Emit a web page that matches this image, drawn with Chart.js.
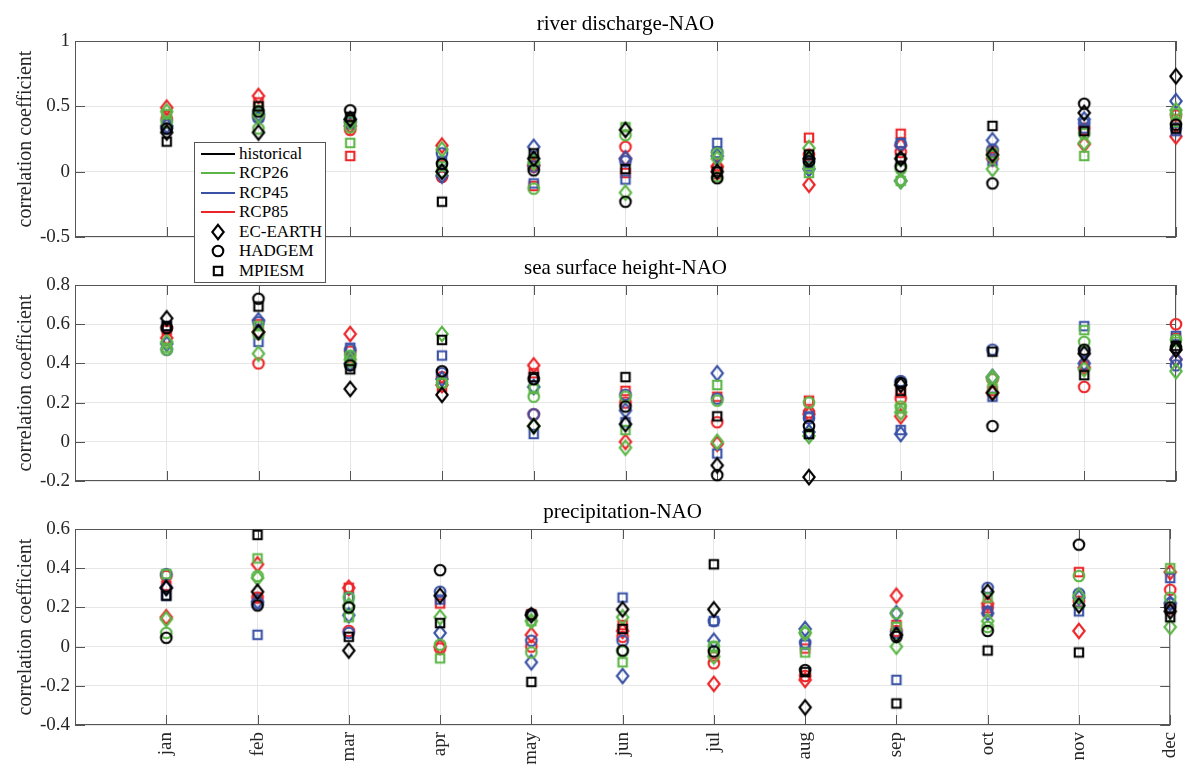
<!DOCTYPE html>
<html>
<head>
<meta charset="utf-8">
<title>NAO correlation</title>
<script src="https://cdn.jsdelivr.net/npm/chart.js@4.4.1/dist/chart.umd.min.js"></script>
<style>
  body { margin: 0; background: #fff; }
  #wrap { position: relative; width: 1200px; height: 780px; overflow: hidden; }
  #wrap canvas { position: absolute; left: 0; }
  #legend {
    position: absolute; left: 194px; top: 142px; width: 130px; height: 139px;
    border: 1px solid #555; background: #fff;
    font-family: "Liberation Serif", serif; font-size: 17px; color: #000;
  }
  #legend .row { position: absolute; left: 0; height: 20px; line-height: 20px; width: 130px; }
  #legend .ln { position: absolute; left: 6px; top: 9px; width: 34px; height: 2px; }
  #legend .mk { position: absolute; left: 13px; top: 0; }
  #legend .tx { position: absolute; left: 44px; top: 0; white-space: nowrap; }
</style>
</head>
<body>
<div id="wrap">
  <canvas id="chart-precip" width="1200" height="280" style="top:500px"></canvas>
  <canvas id="chart-ssh" width="1200" height="250" style="top:250px"></canvas>
  <canvas id="chart-river" width="1200" height="300" style="top:0px"></canvas>
  <div id="legend"></div>
</div>
<script>
// Monthly correlation with NAO: 4 scenarios x 3 models, three variables

const months = ["jan", "feb", "mar", "apr", "may", "jun", "jul", "aug", "sep", "oct", "nov", "dec"];
const scenarios = ["historical", "RCP26", "RCP45", "RCP85"];
const models = ["EC-EARTH", "HADGEM", "MPIESM"];

// river discharge-NAO
const riverHistEc = [0.30, 0.30, 0.40, 0.00, 0.10, 0.32, 0.00, 0.10, 0.10, 0.13, 0.45, 0.73];
const riverHistHad = [0.33, 0.46, 0.47, 0.06, 0.01, -0.23, -0.05, 0.08, 0.04, -0.09, 0.52, 0.36];
const riverHistMpi = [0.23, 0.50, 0.42, -0.23, 0.14, 0.02, 0.00, 0.13, 0.10, 0.35, 0.31, 0.33];
const river26Ec = [0.46, 0.43, 0.38, 0.17, 0.07, -0.16, 0.10, 0.18, -0.07, 0.02, 0.22, 0.47];
const river26Had = [0.38, 0.33, 0.34, 0.00, -0.13, 0.28, 0.14, 0.03, 0.02, 0.12, 0.29, 0.44];
const river26Mpi = [0.44, 0.47, 0.22, 0.04, 0.09, 0.34, -0.04, -0.01, -0.07, 0.14, 0.12, 0.38];
const river45Ec = [0.35, 0.44, 0.40, -0.03, 0.19, 0.10, 0.12, 0.02, -0.07, 0.24, 0.40, 0.54];
const river45Had = [0.33, 0.41, 0.37, 0.14, 0.04, 0.08, 0.15, 0.07, 0.21, 0.17, 0.37, 0.33];
const river45Mpi = [0.37, 0.42, 0.38, 0.08, -0.09, -0.06, 0.22, 0.04, 0.22, 0.08, 0.33, 0.31];
const river85Ec = [0.49, 0.58, 0.35, 0.20, 0.05, 0.10, 0.04, -0.10, 0.20, 0.10, 0.21, 0.27];
const river85Had = [0.40, 0.42, 0.32, -0.04, 0.04, 0.19, 0.03, 0.13, 0.15, 0.155, 0.33, 0.43];
const river85Mpi = [0.43, 0.53, 0.12, 0.05, -0.11, -0.01, -0.02, 0.26, 0.29, 0.12, 0.32, 0.40];

// sea surface height-NAO
const sshHistEc = [0.63, 0.56, 0.27, 0.24, 0.08, 0.09, -0.12, -0.18, 0.29, 0.25, 0.45, 0.47];
const sshHistHad = [0.58, 0.73, 0.39, 0.36, 0.32, 0.18, -0.17, 0.08, 0.30, 0.08, 0.47, 0.48];
const sshHistMpi = [0.59, 0.69, 0.37, 0.52, 0.33, 0.33, 0.13, 0.04, 0.26, 0.46, 0.34, 0.49];
const ssh26Ec = [0.51, 0.45, 0.42, 0.55, 0.08, -0.03, 0.00, 0.03, 0.15, 0.33, 0.37, 0.36];
const ssh26Had = [0.47, 0.55, 0.44, 0.30, 0.23, 0.23, 0.21, 0.20, 0.18, 0.32, 0.51, 0.52];
const ssh26Mpi = [0.48, 0.59, 0.41, 0.30, 0.27, 0.06, 0.29, 0.04, 0.17, 0.27, 0.57, 0.51];
const ssh45Ec = [0.50, 0.62, 0.40, 0.32, 0.28, 0.16, 0.35, 0.05, 0.04, 0.33, 0.40, 0.42];
const ssh45Had = [0.47, 0.61, 0.47, 0.35, 0.14, 0.24, 0.22, 0.12, 0.31, 0.47, 0.46, 0.39];
const ssh45Mpi = [0.59, 0.51, 0.48, 0.44, 0.04, 0.10, -0.06, 0.13, 0.06, 0.23, 0.59, 0.54];
const ssh85Ec = [0.53, 0.56, 0.55, 0.29, 0.39, 0.00, -0.01, 0.14, 0.13, 0.25, 0.38, 0.42];
const ssh85Had = [0.58, 0.40, 0.46, 0.33, 0.14, 0.20, 0.10, 0.15, 0.22, 0.32, 0.28, 0.60];
const ssh85Mpi = [0.57, 0.60, 0.43, 0.28, 0.35, 0.26, 0.23, 0.21, 0.25, 0.26, 0.39, 0.53];

// precipitation-NAO
const precipHistEc = [0.30, 0.28, -0.02, 0.26, 0.16, 0.19, 0.19, -0.31, 0.06, 0.28, 0.21, 0.18];
const precipHistHad = [0.045, 0.21, 0.20, 0.39, 0.165, -0.02, -0.025, -0.12, 0.05, 0.08, 0.52, 0.20];
const precipHistMpi = [0.26, 0.57, 0.05, 0.12, -0.18, 0.09, 0.42, -0.13, -0.29, -0.02, -0.03, 0.15];
const precip26Ec = [0.14, 0.35, 0.21, 0.15, 0.13, 0.15, -0.05, 0.07, 0.00, 0.13, 0.26, 0.10];
const precip26Had = [0.07, 0.36, 0.25, 0.01, -0.03, -0.025, 0.00, 0.07, 0.17, 0.10, 0.36, 0.25];
const precip26Mpi = [0.37, 0.45, 0.15, -0.06, 0.13, -0.08, 0.00, -0.03, 0.10, 0.25, 0.22, 0.40];
const precip45Ec = [0.30, 0.23, 0.16, 0.07, -0.08, -0.15, 0.03, 0.09, 0.17, 0.17, 0.25, 0.22];
const precip45Had = [0.37, 0.22, 0.07, 0.28, 0.03, 0.03, 0.13, 0.02, 0.07, 0.30, 0.27, 0.22];
const precip45Mpi = [0.26, 0.06, 0.25, 0.24, 0.16, 0.25, 0.13, 0.01, -0.17, 0.18, 0.18, 0.35];
const precip85Ec = [0.15, 0.42, 0.30, 0.00, 0.06, 0.08, -0.19, -0.17, 0.26, 0.22, 0.08, 0.38];
const precip85Had = [0.36, 0.25, 0.08, -0.01, 0.00, 0.05, -0.085, -0.15, 0.08, 0.20, 0.23, 0.29];
const precip85Mpi = [0.31, 0.25, 0.30, 0.22, 0.165, 0.11, -0.05, -0.01, 0.11, 0.18, 0.38, 0.19];

const scenarioColors = ["#000000", "#5cb646", "#3a52a6", "#ec2428"];
const modelShapes = ["diamond", "circle", "square"];
const FONT = '"Liberation Serif", serif';

// small canvas used as pointStyle so the markers look like the matlab ones
function markerImage(shape, color) {
  const c = document.createElement("canvas");
  c.width = 20;
  c.height = 20;
  const g = c.getContext("2d");
  g.strokeStyle = color;
  g.lineWidth = 2.1;
  g.beginPath();
  if (shape === "diamond") {
    g.moveTo(10, 2.8);
    g.lineTo(15.7, 10);
    g.lineTo(10, 17.2);
    g.lineTo(4.3, 10);
    g.closePath();
  } else if (shape === "circle") {
    g.arc(10, 10, 5.3, 0, Math.PI * 2);
  } else {
    g.rect(5.8, 5.8, 8.4, 8.4);
  }
  g.stroke();
  return c;
}

function buildDatasets(series) {
  const datasets = [];
  series.forEach((byModel, s) => {
    byModel.forEach((values, m) => {
      datasets.push({
        label: scenarios[s] + " " + models[m],
        data: values.map((v, i) => ({ x: i + 1, y: v })),
        pointStyle: markerImage(modelShapes[m], scenarioColors[s]),
        pointRadius: 6,
        showLine: false,
        clip: false,
      });
    });
  });
  return datasets;
}

// box, inward ticks and panel title
const framePlugin = {
  id: "frame",
  beforeDatasetsDraw(chart, args, opts) {
    const { ctx, chartArea: a, scales } = chart;
    ctx.save();
    ctx.strokeStyle = "#555";
    ctx.lineWidth = 1;
    ctx.strokeRect(a.left + 0.5, a.top + 0.5, a.width - 1, a.height - 1);
    ctx.beginPath();
    scales.x.ticks.forEach((t) => {
      const px = Math.round(scales.x.getPixelForValue(t.value)) + 0.5;
      ctx.moveTo(px, a.bottom);
      ctx.lineTo(px, a.bottom - 10);
      ctx.moveTo(px, a.top);
      ctx.lineTo(px, a.top + 10);
    });
    scales.y.ticks.forEach((t) => {
      const py = Math.round(scales.y.getPixelForValue(t.value)) + 0.5;
      ctx.moveTo(a.left, py);
      ctx.lineTo(a.left + 10, py);
      ctx.moveTo(a.right, py);
      ctx.lineTo(a.right - 10, py);
    });
    ctx.stroke();
    ctx.fillStyle = "#000";
    ctx.font = "21px " + FONT;
    ctx.textAlign = "center";
    ctx.textBaseline = "alphabetic";
    ctx.fillText(opts.title, (a.left + a.right) / 2, a.top - 11);
    ctx.restore();
  },
};

function makePanel(id, title, series, yMin, yMax, yStep, topPad, xHeight, showMonths) {
  const ctx = document.getElementById(id).getContext("2d");
  return new Chart(ctx, {
    type: "scatter",
    data: { datasets: buildDatasets(series) },
    plugins: [framePlugin],
    options: {
      responsive: false,
      animation: false,
      events: [],
      layout: { padding: { top: topPad, right: 24, bottom: 0, left: 0 } },
      plugins: {
        legend: { display: false },
        tooltip: { enabled: false },
        frame: { title: title },
      },
      scales: {
        x: {
          type: "linear",
          min: 0,
          max: 12,
          afterFit: (scale) => { scale.height = xHeight; },
          border: { display: false },
          grid: { color: "#e6e6e6", drawTicks: false },
          ticks: {
            display: showMonths,
            stepSize: 1,
            autoSkip: false,
            minRotation: 90,
            maxRotation: 90,
            padding: 7,
            color: "#262626",
            font: { family: FONT, size: 19 },
            callback: (v) => months[v - 1] || "",
          },
        },
        y: {
          min: yMin,
          max: yMax,
          afterFit: (scale) => { scale.width = 75; },
          border: { display: false },
          grid: { color: "#e6e6e6", drawTicks: false },
          title: {
            display: true,
            text: "correlation coefficient",
            color: "#262626",
            font: { family: FONT, size: 20 },
            padding: { top: 14, bottom: 0 },
          },
          ticks: {
            stepSize: yStep,
            padding: 5,
            color: "#262626",
            font: { family: FONT, size: 19 },
            callback: (v) => String(parseFloat(Number(v).toFixed(2))),
          },
        },
      },
    },
  });
}

makePanel("chart-river", "river discharge-NAO", [
  [riverHistEc, riverHistHad, riverHistMpi],
  [river26Ec, river26Had, river26Mpi],
  [river45Ec, river45Had, river45Mpi],
  [river85Ec, river85Had, river85Mpi],
], -0.5, 1, 0.5, 41, 63, false);

makePanel("chart-ssh", "sea surface height-NAO", [
  [sshHistEc, sshHistHad, sshHistMpi],
  [ssh26Ec, ssh26Had, ssh26Mpi],
  [ssh45Ec, ssh45Had, ssh45Mpi],
  [ssh85Ec, ssh85Had, ssh85Mpi],
], -0.2, 0.8, 0.2, 35, 19, false);

makePanel("chart-precip", "precipitation-NAO", [
  [precipHistEc, precipHistHad, precipHistMpi],
  [precip26Ec, precip26Had, precip26Mpi],
  [precip45Ec, precip45Had, precip45Mpi],
  [precip85Ec, precip85Had, precip85Mpi],
], -0.4, 0.6, 0.2, 29, 55, true);

// legend box (scenario lines, then model markers)
const legend = document.getElementById("legend");
const rowCentres = [10.5, 30, 49.5, 69, 88.5, 108, 127.5];
const shapeSvg = {
  diamond: '<path d="M10 2.8 L15.7 10 L10 17.2 L4.3 10 Z"/>',
  circle: '<circle cx="10" cy="10" r="5.3"/>',
  square: '<rect x="5.8" y="5.8" width="8.4" height="8.4"/>',
};
scenarios.forEach((name, i) => {
  const row = document.createElement("div");
  row.className = "row";
  row.style.top = rowCentres[i] - 10 + "px";
  row.innerHTML = '<span class="ln" style="background:' + scenarioColors[i] + '"></span><span class="tx">' + name + "</span>";
  legend.appendChild(row);
});
models.forEach((name, i) => {
  const row = document.createElement("div");
  row.className = "row";
  row.style.top = rowCentres[i + 4] - 10 + "px";
  row.innerHTML = '<svg class="mk" width="20" height="20"><g fill="none" stroke="#000" stroke-width="2.1">' +
    shapeSvg[modelShapes[i]] + '</g></svg><span class="tx">' + name + "</span>";
  legend.appendChild(row);
});
</script>
</body>
</html>
